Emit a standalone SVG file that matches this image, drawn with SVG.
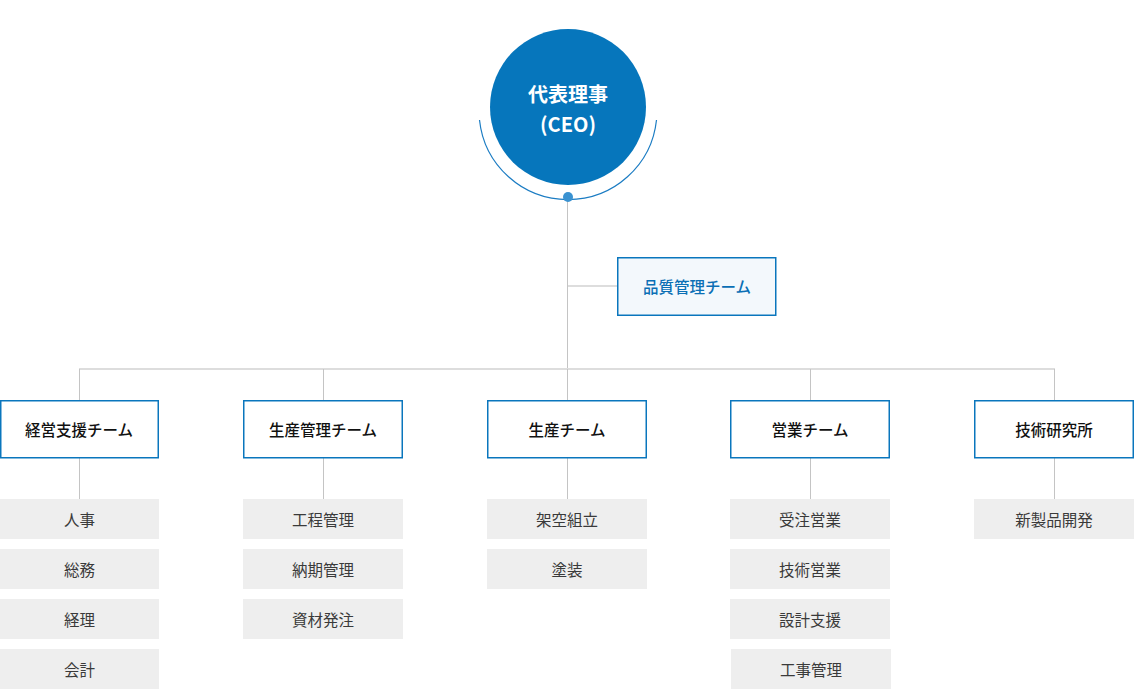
<svg xmlns="http://www.w3.org/2000/svg" width="1135" height="690" viewBox="0 0 1135 690">
<style>
text{font-family:"Noto Sans CJK JP","Noto Sans",sans-serif;text-anchor:middle;dominant-baseline:central}
.team rect{fill:#fff;stroke:#0a76bd;stroke-width:1.5}
.team text{font-size:15.5px;font-weight:500;fill:#111}
.sub rect{fill:#eeeeee}
.sub text{font-size:15.5px;fill:#3a3a3a}
.ln{stroke:#c4c4c4;stroke-width:1;fill:none}
.hl{stroke:#dddddd;stroke-width:2;fill:none}
</style>
<rect width="1135" height="690" fill="#fff"/>
<g id="connectors">
<line class="ln" x1="567.5" y1="197" x2="567.5" y2="369"/>
<line class="hl" x1="568" y1="286" x2="617" y2="286"/>
<line class="hl" x1="79" y1="369" x2="1055" y2="369"/>
<line class="ln" x1="79.5" y1="369" x2="79.5" y2="400"/>
<line class="ln" x1="323.5" y1="369" x2="323.5" y2="400"/>
<line class="ln" x1="567.5" y1="369" x2="567.5" y2="400"/>
<line class="ln" x1="810.5" y1="369" x2="810.5" y2="400"/>
<line class="ln" x1="1054.5" y1="369" x2="1054.5" y2="400"/>
<line class="ln" x1="79.5" y1="458" x2="79.5" y2="499"/>
<line class="ln" x1="323.5" y1="458" x2="323.5" y2="499"/>
<line class="ln" x1="567.5" y1="458" x2="567.5" y2="499"/>
<line class="ln" x1="810.5" y1="458" x2="810.5" y2="499"/>
<line class="ln" x1="1054.5" y1="458" x2="1054.5" y2="499"/>
</g>
<g id="ceo">
<path d="M479.5 120 A89 89 0 0 0 656.5 120" fill="none" stroke="#1b7cc3" stroke-width="1.2"/>
<circle cx="568" cy="107" r="78" fill="#0676bc"/>
<circle cx="568" cy="197" r="5" fill="#3a92d1"/>
<text x="568" y="93" font-size="20" font-weight="700" fill="#fff">代表理事</text>
<text x="568" y="123" font-size="20" font-weight="700" fill="#fff">(CEO)</text>
</g>
<g id="quality">
<rect x="617.75" y="257.75" width="158" height="57.5" fill="#f3f8fc" stroke="#0a76bd" stroke-width="1.5"/>
<text x="697" y="286" font-size="15.5" font-weight="500" fill="#0a6fb5">品質管理チーム</text>
</g>
<g id="team1" class="team"><rect x="0.75" y="400.75" width="157.5" height="57"/><text x="79" y="429">経営支援チーム</text></g>
<g id="team2" class="team"><rect x="243.75" y="400.75" width="158.5" height="57"/><text x="323" y="429">生産管理チーム</text></g>
<g id="team3" class="team"><rect x="487.75" y="400.75" width="158.5" height="57"/><text x="567" y="429">生産チーム</text></g>
<g id="team4" class="team"><rect x="730.75" y="400.75" width="158.5" height="57"/><text x="810" y="429">営業チーム</text></g>
<g id="team5" class="team"><rect x="974.75" y="400.75" width="158.5" height="57"/><text x="1054" y="429">技術研究所</text></g>
<g id="sub1a" class="sub"><rect x="0" y="499" width="159" height="40"/><text x="79.5" y="519">人事</text></g>
<g id="sub1b" class="sub"><rect x="0" y="549" width="159" height="40"/><text x="79.5" y="569">総務</text></g>
<g id="sub1c" class="sub"><rect x="0" y="599" width="159" height="40"/><text x="79.5" y="619">経理</text></g>
<g id="sub1d" class="sub"><rect x="0" y="649" width="159" height="40"/><text x="79.5" y="669">会計</text></g>
<g id="sub2a" class="sub"><rect x="243" y="499" width="160" height="40"/><text x="323" y="519">工程管理</text></g>
<g id="sub2b" class="sub"><rect x="243" y="549" width="160" height="40"/><text x="323" y="569">納期管理</text></g>
<g id="sub2c" class="sub"><rect x="243" y="599" width="160" height="40"/><text x="323" y="619">資材発注</text></g>
<g id="sub3a" class="sub"><rect x="487" y="499" width="160" height="40"/><text x="567" y="519">架空組立</text></g>
<g id="sub3b" class="sub"><rect x="487" y="549" width="160" height="40"/><text x="567" y="569">塗装</text></g>
<g id="sub4a" class="sub"><rect x="730" y="499" width="160" height="40"/><text x="810" y="519">受注営業</text></g>
<g id="sub4b" class="sub"><rect x="730" y="549" width="160" height="40"/><text x="810" y="569">技術営業</text></g>
<g id="sub4c" class="sub"><rect x="730" y="599" width="160" height="40"/><text x="810" y="619">設計支援</text></g>
<g id="sub4d" class="sub"><rect x="731" y="649" width="160" height="40"/><text x="811" y="669">工事管理</text></g>
<g id="sub5a" class="sub"><rect x="974" y="499" width="160" height="40"/><text x="1054" y="519">新製品開発</text></g>
</svg>
